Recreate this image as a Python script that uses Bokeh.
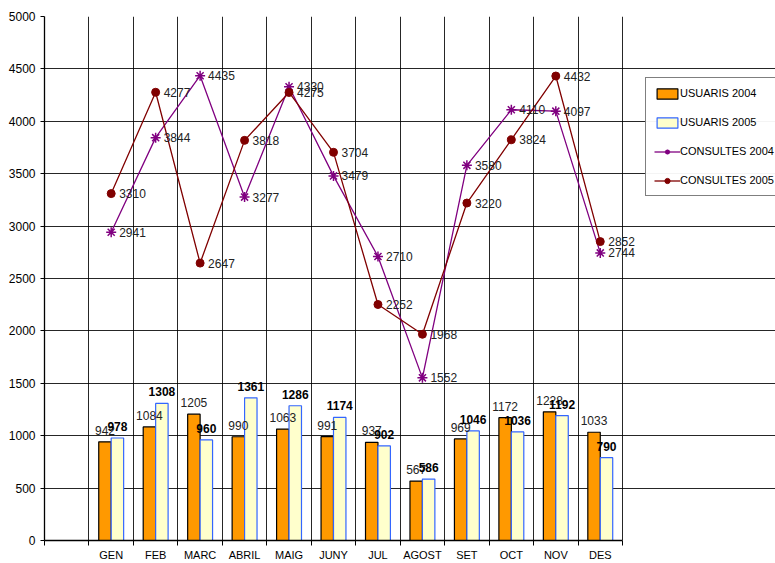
from bokeh.plotting import figure
from bokeh.models import Range1d, FixedTicker, Legend, LegendItem, ColumnDataSource
from bokeh.core.properties import value
from bokeh.embed import file_html
from bokeh.resources import INLINE

months = ["GEN", "FEB", "MARC", "ABRIL", "MAIG", "JUNY", "JUL", "AGOST", "SET", "OCT", "NOV", "DES"]
usuaris_2004 = [942, 1084, 1205, 990, 1063, 991, 937, 567, 969, 1172, 1228, 1033]
usuaris_2005 = [978, 1308, 960, 1361, 1286, 1174, 902, 586, 1046, 1036, 1192, 790]
consultes_2004 = [2941, 3844, 4435, 3277, 4330, 3479, 2710, 1552, 3580, 4110, 4097, 2744]
consultes_2005 = [3310, 4277, 2647, 3818, 4275, 3704, 2252, 1968, 3220, 3824, 4432, 2852]
y_ticks = [0, 500, 1000, 1500, 2000, 2500, 3000, 3500, 4000, 4500, 5000]

FONT = "Liberation Sans"
n = len(months)
xs = [i + 1 for i in range(n)]
bounds_x = [i - 0.5 for i in range(n + 2)]  # -0.5 .. 12.5
bw = 0.28

# layout (pixels)
W, H = 775, 563
left, top, bottom = 44, 16, 20
frame_w = W - left
cat_px = (622 - 44) / (n + 1)
x_end = -0.5 + frame_w / cat_px

p = figure(width=W, height=H, output_backend="svg", toolbar_location=None,
           x_range=Range1d(-0.5, x_end), y_range=Range1d(0, 5000),
           min_border_left=left, min_border_right=0, min_border_top=top, min_border_bottom=bottom)
p.outline_line_color = None
p.background_fill_color = "white"

# grid
p.xgrid.ticker = FixedTicker(ticks=bounds_x[1:])
p.ygrid.ticker = FixedTicker(ticks=y_ticks)
p.ygrid.bounds = (-0.5, n + 0.5)
for g in (p.xgrid, p.ygrid):
    g.grid_line_color = "black"
    g.grid_line_alpha = 0.85
    g.grid_line_width = 1

# axes
p.yaxis.ticker = FixedTicker(ticks=y_ticks)
p.yaxis.major_tick_out = 4
p.yaxis.major_tick_in = 0
p.yaxis.minor_tick_line_color = None
p.yaxis.axis_line_color = "black"
p.yaxis.axis_line_width = 1.3
p.yaxis.major_label_text_font = FONT
p.yaxis.major_label_text_font_size = "12px"
p.yaxis.major_label_text_color = "black"
p.yaxis.major_label_standoff = 5

p.xaxis.ticker = FixedTicker(ticks=xs, minor_ticks=bounds_x)
p.xaxis.bounds = (-0.5, n + 0.5)
p.xaxis.major_label_overrides = {x: m for x, m in zip(xs, months)}
p.xaxis.major_tick_line_color = None
p.xaxis.major_tick_out = 0
p.xaxis.major_tick_in = 0
p.xaxis.minor_tick_out = 5
p.xaxis.minor_tick_in = 0
p.xaxis.minor_tick_line_color = "black"
p.xaxis.axis_line_color = "black"
p.xaxis.axis_line_width = 1.3
p.xaxis.major_label_text_font = FONT
p.xaxis.major_label_text_font_size = "11px"
p.xaxis.major_label_text_color = "black"
p.xaxis.major_label_standoff = 3

src = ColumnDataSource(dict(
    x=xs,
    x04=[x - bw / 2 for x in xs],
    x05=[x + bw / 2 for x in xs],
    u04=usuaris_2004, u05=usuaris_2005,
    c04=consultes_2004, c05=consultes_2005,
    u04s=[str(v) for v in usuaris_2004], u05s=[str(v) for v in usuaris_2005],
    c04s=[str(v) for v in consultes_2004], c05s=[str(v) for v in consultes_2005],
))

b04 = p.vbar(x="x04", top="u04", width=bw, source=src, fill_color="#FF9900",
             line_color="black", line_width=1.2)
b05 = p.vbar(x="x05", top="u05", width=bw, source=src, fill_color="#FFFFCC",
             line_color="#3366FF", line_width=1.2)

p.text(x="x04", y="u04", text="u04s", source=src, text_align="center", text_baseline="bottom",
       y_offset=-7, text_font=value(FONT), text_font_size="12px", text_color="#222222")
p.text(x="x05", y="u05", text="u05s", source=src, text_align="center", text_baseline="bottom",
       y_offset=-7, text_font=value(FONT), text_font_size="12px", text_font_style="bold",
       text_color="black")

l04 = p.line(x="x", y="c04", source=src, line_color="#800080", line_width=1.3)
m04 = p.scatter(x="x", y="c04", source=src, marker="asterisk", size=10,
                line_color="#800080", line_width=1.5)
l05 = p.line(x="x", y="c05", source=src, line_color="#800000", line_width=1.3)
m05 = p.scatter(x="x", y="c05", source=src, marker="circle", size=8,
                fill_color="#800000", line_color="#800000")

p.text(x="x", y="c04", text="c04s", source=src, text_align="left", text_baseline="middle",
       x_offset=8, text_font=value(FONT), text_font_size="12px", text_color="#222222")
p.text(x="x", y="c05", text="c05s", source=src, text_align="left", text_baseline="middle",
       x_offset=8, text_font=value(FONT), text_font_size="12px", text_color="#222222")

legend = Legend(items=[
    LegendItem(label="USUARIS 2004", renderers=[b04]),
    LegendItem(label="USUARIS 2005", renderers=[b05]),
    LegendItem(label="CONSULTES 2004", renderers=[l04, m04]),
    LegendItem(label="CONSULTES 2005", renderers=[l05, m05]),
], location=(645 - left, 541 - 197))
legend.border_line_color = "black"
legend.border_line_width = 1
legend.background_fill_color = "white"
legend.label_text_font = FONT
legend.label_text_font_size = "11px"
legend.label_text_color = "black"
legend.glyph_width = 26
legend.glyph_height = 13
legend.label_height = 14
legend.spacing = 15
legend.padding = 8
legend.margin = 0
legend.label_standoff = 0
p.add_layout(legend, "center")

open("out.html", "w").write(file_html(p, INLINE))
